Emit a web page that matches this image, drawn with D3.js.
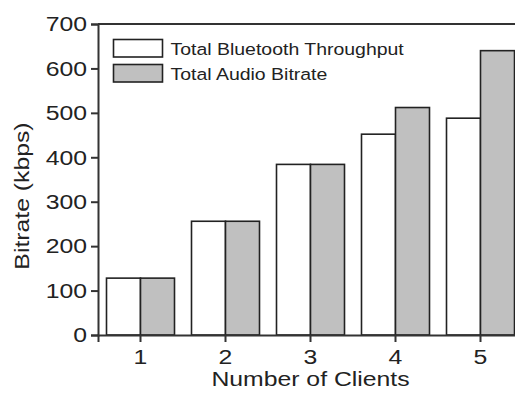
<!DOCTYPE html>
<html>
<head>
<meta charset="utf-8">
<script src="https://cdn.jsdelivr.net/npm/d3@7"></script>
<style>
  html, body { margin: 0; padding: 0; background: #fff; }
  svg { display: block; }
  text { font-family: "Liberation Sans", Arial, Helvetica, sans-serif; fill: #222; }
</style>
</head>
<body>
<svg id="chart" width="515" height="396"></svg>
<script>
// Number of clients on the x axis
const clients = ["1", "2", "3", "4", "5"];
// Series (kbps)
const seriesNames = ["Total Bluetooth Throughput", "Total Audio Bitrate"];
const bluetoothThroughput = [128, 256, 384, 452, 488];
const audioBitrate = [128, 256, 384, 512, 640];
const seriesFill = ["#ffffff", "#c0c0c0"];
const yTicks = [0, 100, 200, 300, 400, 500, 600, 700];

const W = 515, H = 396;
const plot = { left: 98, right: 523, top: 24, bottom: 335 };
const stretch = 1.18; // the typeface is drawn a little wide

const svg = d3.select("#chart");

const x0 = d3.scaleBand().domain(clients)
  .range([plot.left, plot.right]).paddingInner(0.2).paddingOuter(0.1);
const x1 = d3.scaleBand().domain(seriesNames).range([0, x0.bandwidth()]);
const y = d3.scaleLinear().domain([0, 700]).range([plot.bottom, plot.top]);

const rows = clients.map((c, i) => ({
  client: c,
  values: [bluetoothThroughput[i], audioBitrate[i]]
}));

// Bars
const groups = svg.append("g").selectAll("g").data(rows).join("g")
  .attr("transform", d => `translate(${x0(d.client)},0)`);
groups.selectAll("rect")
  .data(d => d.values.map((v, k) => ({ v, k })))
  .join("rect")
  .attr("x", d => x1(seriesNames[d.k]))
  .attr("y", d => y(d.v))
  .attr("width", x1.bandwidth())
  .attr("height", d => y(0) - y(d.v))
  .attr("fill", d => seriesFill[d.k])
  .attr("stroke", "#222")
  .attr("stroke-width", 1.6);

// Frame (top and right edges)
svg.append("path")
  .attr("d", `M${plot.left},${plot.top}H${plot.right + 1}V${plot.bottom}`)
  .attr("fill", "none").attr("stroke", "#333").attr("stroke-width", 2);

// Y axis
const yAxis = svg.append("g")
  .attr("transform", `translate(${plot.left},0)`)
  .call(d3.axisLeft(y).tickValues(yTicks).tickSize(7).tickPadding(4));
yAxis.select(".domain").attr("stroke", "#333").attr("stroke-width", 2);
yAxis.selectAll(".tick line").attr("stroke", "#333").attr("stroke-width", 2);
yAxis.selectAll(".tick text")
  .attr("font-size", 21)
  .attr("font-family", null)
  .each(function () {
    const t = d3.select(this);
    const tx = +t.attr("x");
    t.attr("x", 0).attr("transform", `translate(${tx},0) scale(${stretch},1)`);
  });

// X axis
const xAxis = svg.append("g")
  .attr("transform", `translate(0,${plot.bottom})`)
  .call(d3.axisBottom(x0).tickSize(7).tickPadding(7));
xAxis.select(".domain").attr("stroke", "#333").attr("stroke-width", 2);
xAxis.selectAll(".tick line").attr("stroke", "#333").attr("stroke-width", 2);
xAxis.selectAll(".tick text")
  .attr("font-size", 21)
  .attr("font-family", null)
  .attr("transform", `scale(${stretch},1)`)
  .attr("x", 0);

// Axis titles
svg.append("text")
  .attr("transform", `translate(${(plot.left + plot.right) / 2},386) scale(${stretch},1)`)
  .attr("text-anchor", "middle")
  .attr("font-size", 21)
  .text("Number of Clients");

svg.append("text")
  .attr("transform", `translate(29,196) rotate(-90) scale(${stretch},1)`)
  .attr("text-anchor", "middle")
  .attr("font-size", 21)
  .text("Bitrate (kbps)");

// Legend
const legend = svg.append("g").attr("transform", "translate(113.5,39.5)");
const item = legend.selectAll("g").data(seriesNames).join("g")
  .attr("transform", (d, i) => `translate(0,${i * 25})`);
item.append("rect")
  .attr("width", 49).attr("height", 17.5)
  .attr("fill", (d, i) => seriesFill[i])
  .attr("stroke", "#222").attr("stroke-width", 1.6);
item.append("text")
  .attr("transform", `translate(57,15.5) scale(${stretch},1)`)
  .attr("font-size", 16.5)
  .text(d => d);
</script>
</body>
</html>
